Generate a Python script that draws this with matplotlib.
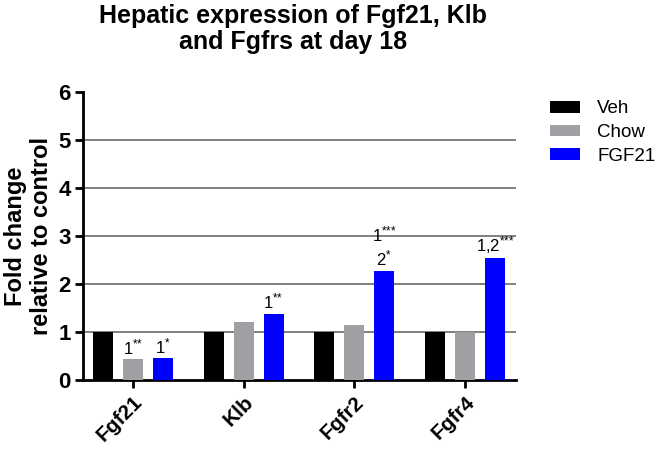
import matplotlib
matplotlib.use("Agg")
import matplotlib.pyplot as plt
import numpy as np

plt.rcParams['font.family'] = ['Liberation Sans', 'DejaVu Sans']
plt.rcParams['mathtext.fontset'] = 'custom'
plt.rcParams['mathtext.rm'] = 'Liberation Sans'
plt.rcParams['mathtext.default'] = 'regular'

genes = ['Fgf21', 'Klb', 'Fgfr2', 'Fgfr4']
veh = [1.0, 1.0, 1.0, 1.0]
chow = [0.43, 1.20, 1.14, 1.0]
fgf21 = [0.45, 1.38, 2.28, 2.54]
groups = ['Veh', 'Chow', 'FGF21']
colors = ['#000000', '#a0a0a4', '#0000ff']

# annotations: (gene index, series index, text)
notes = [(0, 1, '1$^{{*}{*}}$'), (0, 2, '1$^{{*}}$'), (1, 2, '1$^{{*}{*}}$'),
         (2, 2, '1$^{{*}{*}{*}}$\n2$^{{*}}$'), (3, 2, '1,2$^{{*}{*}{*}}$')]

fig = plt.figure(figsize=(6.61, 4.5), dpi=100)
ax = fig.add_axes([0.1256, 0.1556, 0.6550, 0.6400])

x = np.arange(len(genes))
w = 0.18
step = 0.271
series = [veh, chow, fgf21]
for i, (vals, name, c) in enumerate(zip(series, groups, colors)):
    ax.bar(x + (i - 1) * step, vals, width=w, color=c, label=name, zorder=3)

for g, s, t in notes:
    v = series[s][g]
    ax.text(x[g] + (s - 1) * step, v + 0.04, t, ha='center', va='bottom',
            fontsize=12, linespacing=1.25, zorder=4)

ax.set_ylim(0, 6)
ax.set_xlim(-0.45, 3.46)
ax.set_yticks(range(7))
for yv in range(1, 6):
    ax.axhline(yv, color='#6a6a6a', lw=1.2, zorder=1)

ax.spines['top'].set_visible(False)
ax.spines['right'].set_visible(False)
ax.spines['left'].set_linewidth(2)
ax.spines['bottom'].set_linewidth(2)
ax.tick_params(axis='both', width=2, length=6, pad=3)
ax.set_yticklabels([str(v) for v in range(7)], fontsize=16, fontweight='bold')
ax.set_xticks(x)
ax.set_xticklabels(genes, rotation=45, ha='right', rotation_mode='anchor',
                   fontsize=15, fontweight='bold')
ax.set_ylabel('Fold change\nrelative to control', fontsize=17, fontweight='bold',
              linespacing=1.15, labelpad=4)

fig.text(0.443, 0.99, 'Hepatic expression of Fgf21, Klb\nand Fgfrs at day 18',
         ha='center', va='top', fontsize=18, fontweight='bold', linespacing=1.1)

ax.legend(loc='upper left', bbox_to_anchor=(1.049, 1.016), frameon=False,
          fontsize=13.5, handlelength=1.6, handleheight=0.55, labelspacing=0.35,
          handletextpad=0.9, borderaxespad=0.3)

fig.savefig('out.png', dpi=100)
